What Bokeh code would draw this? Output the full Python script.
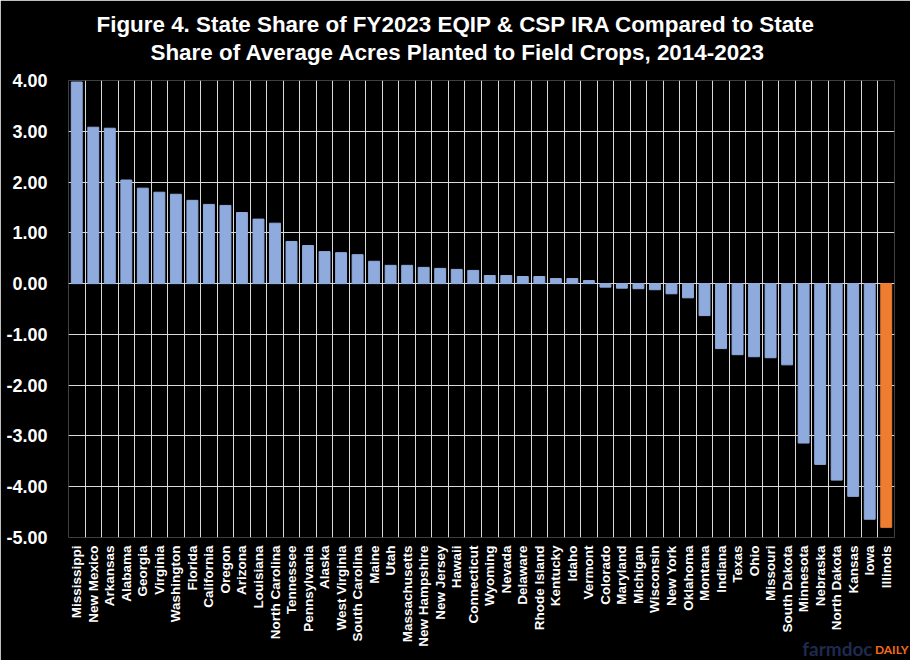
from bokeh.plotting import figure
from bokeh.models import ColumnDataSource, FixedTicker, NumeralTickFormatter, Title
from bokeh.embed import file_html
from bokeh.resources import INLINE
import math

states = ["Mississippi", "New Mexico", "Arkansas", "Alabama", "Georgia", "Virginia",
          "Washington", "Florida", "California", "Oregon", "Arizona", "Louisiana",
          "North Carolina", "Tennessee", "Pennsylvania", "Alaska", "West Virginia",
          "South Carolina", "Maine", "Utah", "Massachusetts", "New Hampshire",
          "New Jersey", "Hawaii", "Connecticut", "Wyoming", "Nevada", "Delaware",
          "Rhode Island", "Kentucky", "Idaho", "Vermont", "Colorado", "Maryland",
          "Michigan", "Wisconsin", "New York", "Oklahoma", "Montana", "Indiana",
          "Texas", "Ohio", "Missouri", "South Dakota", "Minnesota", "Nebraska",
          "North Dakota", "Kansas", "Iowa", "Illinois"]
values = [3.97, 3.08, 3.06, 2.04, 1.88, 1.80, 1.76, 1.64, 1.56, 1.54, 1.40, 1.27,
          1.19, 0.83, 0.75, 0.63, 0.61, 0.57, 0.44, 0.36, 0.36, 0.32, 0.30, 0.28,
          0.26, 0.16, 0.16, 0.14, 0.14, 0.10, 0.10, 0.06, -0.07, -0.09, -0.10,
          -0.12, -0.20, -0.28, -0.63, -1.28, -1.40, -1.44, -1.46, -1.60, -3.14,
          -3.56, -3.87, -4.19, -4.64, -4.80]
highlight = "Illinois"
y_ticks = [-5, -4, -3, -2, -1, 0, 1, 2, 3, 4]
title_line1 = "Figure 4. State Share of FY2023 EQIP & CSP IRA Compared to State"
title_line2 = "Share of Average Acres Planted to Field Crops, 2014-2023"

BLUE = "#8FAADC"
ORANGE = "#ED7D31"
GRID = "#D9D9D9"
FONT = "Liberation Sans"
TFONT = "'Liberation Sans Narrow', 'Liberation Sans'"

xs = [i + 0.5 for i in range(len(states))]
colors = [ORANGE if s == highlight else BLUE for s in states]
src = ColumnDataSource(dict(x=xs, top=values, color=colors, state=states))

p = figure(width=910, height=660, output_backend="svg", toolbar_location=None,
           title=None, x_range=(0, len(states)), y_range=(-5, 4),
           background_fill_color="black", border_fill_color="black",
           min_border_left=68, min_border_right=16, min_border_top=80,
           min_border_bottom=123)
p.outline_line_color = None

p.vbar(x="x", top="top", bottom=0, width=0.66, color="color", source=src)

# grid
p.xgrid.ticker = FixedTicker(ticks=list(range(len(states) + 1)))
p.ygrid.ticker = FixedTicker(ticks=y_ticks)
for g in (p.xgrid, p.ygrid):
    g.grid_line_color = GRID
    g.grid_line_width = 1
    g.grid_line_alpha = 1

# x axis
p.xaxis.ticker = FixedTicker(ticks=xs)
p.xaxis.major_label_overrides = {x: s for x, s in zip(xs, states)}
p.xaxis.major_label_orientation = math.pi / 2
p.xaxis.major_label_text_font = FONT
p.xaxis.major_label_text_font_style = "bold"
p.xaxis.major_label_text_font_size = "13.5px"
p.xaxis.major_label_text_color = "white"
p.xaxis.major_label_standoff = 8
p.xaxis.major_tick_out = 0

# y axis
p.yaxis.ticker = FixedTicker(ticks=y_ticks)
p.yaxis.formatter = NumeralTickFormatter(format="0.00")
p.yaxis.major_label_text_font = FONT
p.yaxis.major_label_text_font_style = "bold"
p.yaxis.major_label_text_font_size = "18px"
p.yaxis.major_label_text_color = "white"
p.yaxis.major_label_standoff = 15

for ax in (p.xaxis, p.yaxis):
    ax.axis_line_color = None
    ax.major_tick_line_color = None
    ax.minor_tick_line_color = None

# title: two lines above the frame (first added sits closest to the frame)
p.add_layout(Title(text=title_line2, align="left", offset=82, vertical_align="top",
                   standoff=27, text_font=TFONT, text_font_style="bold",
                   text_font_size="22.4px", text_color="white"), "above")
p.add_layout(Title(text=title_line1, align="left", offset=28, vertical_align="middle",
                   standoff=-22, text_font=TFONT, text_font_style="bold",
                   text_font_size="22.4px", text_color="white"), "above")

# watermark below the axis, on the right
p.add_layout(Title(text="farmdoc", align="right", offset=22, vertical_align="top",
                   standoff=-25, text_font="Lato", text_font_style="bold",
                   text_font_size="19px", text_color="#1F2A4D"), "below")
p.add_layout(Title(text="DAILY", align="right", offset=-14, vertical_align="top",
                   standoff=-16, text_font="Lato", text_font_style="bold",
                   text_font_size="12px", text_color="#F26B1D"), "below")

open("out.html", "w").write(file_html(p, INLINE))
